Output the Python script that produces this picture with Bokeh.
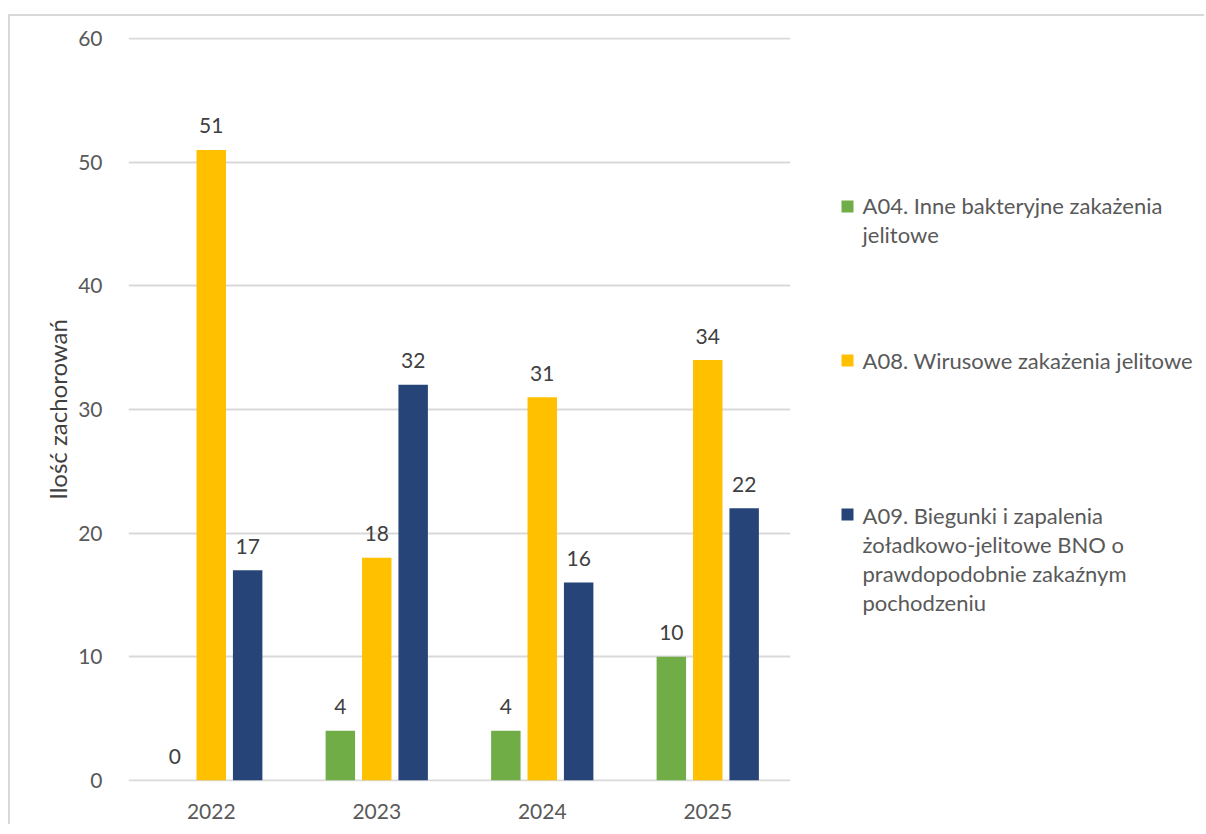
from bokeh.plotting import figure
from bokeh.models import ColumnDataSource, FactorRange, FixedTicker, Range1d
from bokeh.layouts import row
from bokeh.transform import dodge
from bokeh.embed import file_html
from bokeh.resources import INLINE
from bokeh.core.properties import value

# ---- data ----
years = ["2022", "2023", "2024", "2025"]
a04 = [0, 4, 4, 10]
a08 = [51, 18, 31, 34]
a09 = [17, 32, 16, 22]
series_names = [
    ["A04. Inne bakteryjne zakażenia", "jelitowe"],
    ["A08. Wirusowe zakażenia jelitowe"],
    ["A09. Biegunki i zapalenia", "żoładkowo-jelitowe BNO o",
     "prawdopodobnie zakaźnym", "pochodzeniu"],
]
y_ticks = [0, 10, 20, 30, 40, 50, 60]
y_title = "Ilość zachorowań"

colors = ["#70AD47", "#FFC000", "#264478"]
FONT = "Lato"
TXT = "#595959"

# ---- layout (page origin of content = (10, 16) after margin + border) ----
OX, OY = 10, 16
H = 808
CW = 800                      # chart figure width
LW = 1194 - CW                # legend figure width
FL, FT, FW, FH = 118, 21, 662, 744

src = ColumnDataSource(dict(
    year=years, a04=a04, a08=a08, a09=a09,
    a04_t=[str(v) for v in a04], a08_t=[str(v) for v in a08], a09_t=[str(v) for v in a09],
))

p = figure(x_range=FactorRange(*years, range_padding=0), y_range=Range1d(-0.1, 60.1),
           width=CW, height=H, output_backend="svg", toolbar_location=None,
           min_border_left=FL, min_border_right=CW - FL - FW,
           min_border_top=FT, min_border_bottom=H - FT - FH)
p.outline_line_color = None
p.border_fill_color = "white"

offsets = [-0.22, 0.0, 0.22]
keys = ["a04", "a08", "a09"]
for k, off, c in zip(keys, offsets, colors):
    p.vbar(x=dodge("year", off, range=p.x_range), top=k, width=0.178,
           source=src, fill_color=c, line_color=None)
    p.text(x=dodge("year", off, range=p.x_range), y=k, text=k + "_t", source=src,
           text_align="center", text_baseline="alphabetic", y_offset=-24,
           text_font=value(FONT), text_font_size="21px", text_color="#404040")

# axes
p.yaxis.ticker = FixedTicker(ticks=y_ticks)
p.yaxis.axis_line_color = None
p.yaxis.major_tick_line_color = None
p.yaxis.minor_tick_line_color = None
p.yaxis.major_label_standoff = 20
p.yaxis.major_label_text_font = FONT
p.yaxis.major_label_text_font_size = "21px"
p.yaxis.major_label_text_color = TXT
p.yaxis.axis_label = y_title
p.yaxis.axis_label_text_font = FONT
p.yaxis.axis_label_text_font_size = "24px"
p.yaxis.axis_label_text_font_style = "normal"
p.yaxis.axis_label_text_color = "#404040"
p.yaxis.axis_label_standoff = 3

p.xaxis.axis_line_color = None
p.xaxis.major_tick_line_color = None
p.xaxis.minor_tick_line_color = None
p.xaxis.major_label_standoff = 16
p.xaxis.major_label_text_font = FONT
p.xaxis.major_label_text_font_size = "21px"
p.xaxis.major_label_text_color = TXT

p.xgrid.grid_line_color = None
p.ygrid.grid_line_color = "#D9D9D9"
p.ygrid.grid_line_width = 2

# ---- legend figure (coordinates = page pixels; its frame aligns with the chart frame) ----
leg = figure(width=LW, height=H, output_backend="svg", toolbar_location=None,
             x_range=Range1d(OX + CW, OX + CW + LW),
             y_range=Range1d(OY + FT + FH, OY + FT),
             x_axis_location=None, y_axis_location=None,
             min_border_left=0, min_border_right=0,
             min_border_top=FT, min_border_bottom=H - FT - FH)
leg.grid.visible = False
leg.outline_line_color = None
leg.border_fill_color = "white"

marker_y = [206, 360, 514]
first_baseline = [205, 360, 515]
line_step = 29
for names, my, by, c in zip(series_names, marker_y, first_baseline, colors):
    leg.rect(x=[847], y=[my], width=12, height=12, fill_color=c, line_color=None)
    leg.text(x=[862] * len(names), y=[by + i * line_step for i in range(len(names))],
             text=names, text_baseline="alphabetic", text_align="left",
             text_font=value(FONT), text_font_size="22px", text_color=TXT)

layout = row(p, leg, styles={
    "margin-left": "8px", "margin-top": "14px",
    "border-top": "2px solid #D9D9D9", "border-left": "2px solid #D9D9D9",
})

open("out.html", "w").write(file_html(layout, INLINE))
